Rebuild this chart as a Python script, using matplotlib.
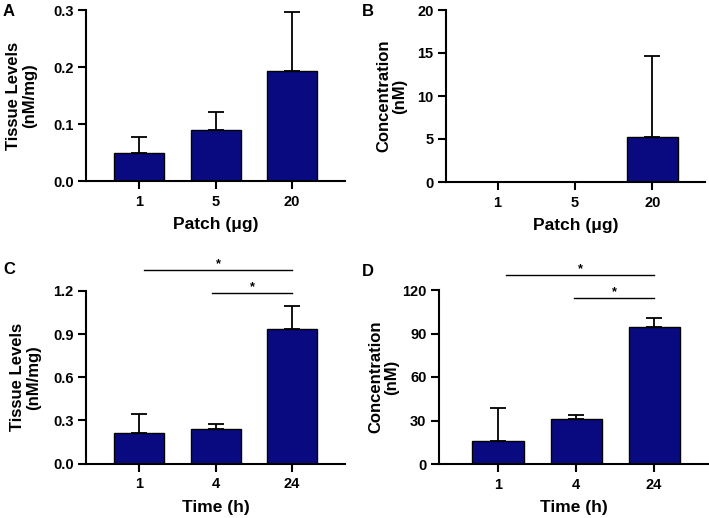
import numpy as np
import matplotlib.pyplot as plt

plt.rcParams['font.family'] = ['Liberation Sans', 'DejaVu Sans']
plt.rcParams['font.weight'] = 'bold'

# Data
patch_labels = ['1', '5', '20']
tissue_patch = [0.049, 0.090, 0.193]
tissue_patch_err = [0.028, 0.031, 0.103]
conc_patch = [0.0, 0.0, 5.27]
conc_patch_err = [0.0, 0.0, 9.4]

time_labels = ['1', '4', '24']
tissue_time = [0.213, 0.241, 0.934]
tissue_time_err = [0.134, 0.037, 0.160]
conc_time = [15.9, 30.8, 94.3]
conc_time_err = [22.9, 3.0, 6.4]

bar_color = '#0a0a80'

W, H = 709, 518
fig = plt.figure(figsize=(W / 100, H / 100), dpi=100)


def panel(px, labels, vals, errs, xlim, ylim, yticks, yfmt, ylabel, ylab_off,
          xlabel, letter, letter_xy, sig=None):
    # px = (left, top, right, bottom) of the axes in pixels
    l, t, r, b = px
    ax = fig.add_axes([l / W, 1 - b / H, (r - l) / W, (b - t) / H])
    x = np.arange(len(vals))
    ax.bar(x, vals, width=0.655, color=bar_color, edgecolor='black', linewidth=1.0, zorder=2)
    for xi, v, e in zip(x, vals, errs):
        if e > 0:
            ax.errorbar(xi, v, yerr=[[0], [e]], fmt='none', ecolor='black',
                        elinewidth=1.3, capsize=5.5, capthick=1.3, zorder=1)
    ax.set_xlim(*xlim)
    ax.set_ylim(*ylim)
    ax.set_yticks(yticks)
    ax.set_yticklabels([yfmt.format(t) for t in yticks])
    ax.set_xticks(x)
    ax.set_xticklabels(labels)
    for s in ['top', 'right']:
        ax.spines[s].set_visible(False)
    for s in ['left', 'bottom']:
        ax.spines[s].set_linewidth(1.5)
    ax.tick_params(width=1.5, length=6, labelsize=10.5, pad=3)
    ax.tick_params(axis='x', pad=4)
    ax.set_ylabel(ylabel, fontsize=12, fontweight='bold', linespacing=1.1, va='center')
    ax.yaxis.set_label_coords(ylab_off / (r - l), 0.5)
    ax.set_xlabel(xlabel, fontsize=12.5, fontweight='bold', labelpad=6)
    fig.text(letter_xy[0] / W, 1 - letter_xy[1] / H, letter, fontsize=12,
             fontweight='bold', va='center', ha='left')
    if sig:
        for (x0, x1, yy) in sig:
            ax.plot([x0, x1], [yy, yy], color='black', lw=1.0, clip_on=False)
            ax.text((x0 + x1) / 2, yy, '*', ha='center', va='bottom', fontsize=9,
                    clip_on=False)
    return ax


panel((86, 10, 345, 181), patch_labels, tissue_patch, tissue_patch_err,
      (-0.693, 2.69), (0, 0.3), [0.0, 0.1, 0.2, 0.3], '{:.1f}',
      'Tissue Levels\n(nM/mg)', -64, 'Patch (\u03bcg)', 'A', (3, 12))
panel((446, 10, 705, 182), patch_labels, conc_patch, conc_patch_err,
      (-0.667, 2.68), (0, 20), [0, 5, 10, 15, 20], '{:.0f}',
      'Concentration\n(nM)', -54, 'Patch (\u03bcg)', 'B', (362, 12))
panel((86, 291, 345, 463.5), time_labels, tissue_time, tissue_time_err,
      (-0.693, 2.69), (0, 1.2), [0.0, 0.3, 0.6, 0.9, 1.2], '{:.1f}',
      'Tissue Levels\n(nM/mg)', -60, 'Time (h)', 'C', (3, 270),
      sig=[(0.07, 2, 1.346), (0.95, 2, 1.186)])
panel((439, 290, 708, 464), time_labels, conc_time, conc_time_err,
      (-0.756, 2.69), (0, 120), [0, 30, 60, 90, 120], '{:.0f}',
      'Concentration\n(nM)', -55, 'Time (h)', 'D', (362, 272),
      sig=[(0.1, 2, 130.5), (0.97, 2, 114.3)])

fig.savefig('out.png', dpi=100)
